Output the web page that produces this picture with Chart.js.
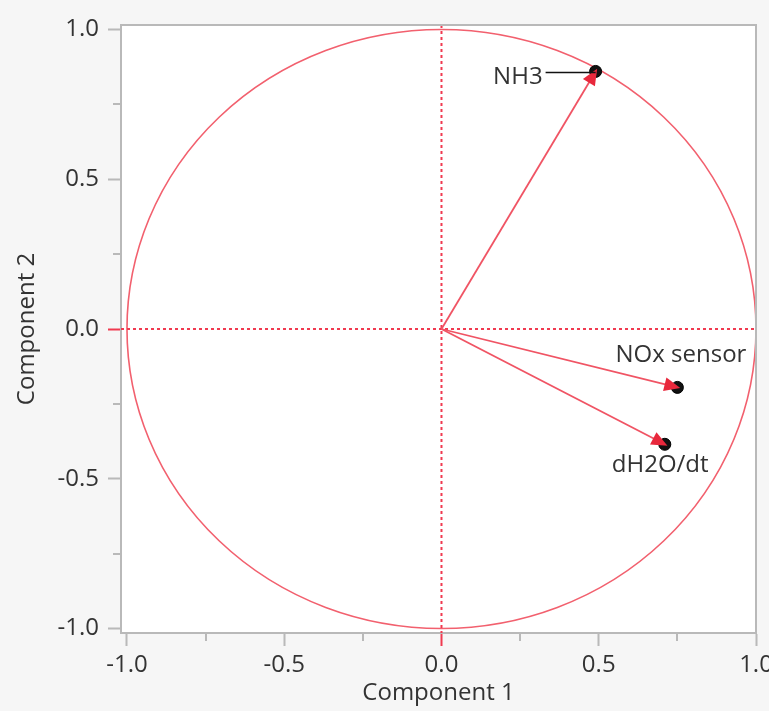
<!DOCTYPE html>
<html>
<head>
<meta charset="utf-8">
<title>Loading plot</title>
<script src="https://cdn.jsdelivr.net/npm/chart.js@4.4.1/dist/chart.umd.min.js"></script>
<style>
  html, body { margin: 0; padding: 0; background: #f6f6f6; }
  #wrap { width: 769px; height: 711px; }
</style>
</head>
<body>
<div id="wrap"><canvas id="c" width="769" height="711"></canvas></div>
<script>
// Variable loadings on the first two principal components
const variables  = ['NH3', 'NOx sensor', 'dH2O/dt'];
const component1 = [0.49, 0.75, 0.71];
const component2 = [0.86, -0.195, -0.385];

// Axis ticks (majors every 0.5 are labelled, the quarter steps are minor)
const xTicks = [-1, -0.75, -0.5, -0.25, 0, 0.25, 0.5, 0.75, 1];
const yTicks = [-1, -0.75, -0.5, -0.25, 0, 0.25, 0.5, 0.75, 1];
const xRange = [-1.019, 1.0];
const yRange = [-1.015, 1.015];

const FONT = '"Open Sans", "Noto Sans", sans-serif';
const FONT_SIZE = 24;
const TEXT = '#333333';
const AXIS_GREY = '#b9b9b9';
const ZERO_RED = '#f03a50';

const isMajor = v => Math.abs(v * 2 - Math.round(v * 2)) < 1e-9;

// Where each variable name sits relative to its point (pixels)
const labelOffsets = {
  'NH3':        { dx: -53, dy: 13, align: 'right', leader: true },
  'NOx sensor': { dx: 69,  dy: -25, align: 'right' },
  'dH2O/dt':    { dx: -53, dy: 28, align: 'left' }
};

const biplot = {
  id: 'biplot',
  beforeDraw(chart) {
    const { ctx, chartArea: a } = chart;
    ctx.save();
    ctx.fillStyle = '#f6f6f6';
    ctx.fillRect(0, 0, chart.width, chart.height);
    ctx.fillStyle = '#ffffff';
    ctx.fillRect(a.left, a.top, a.right - a.left, a.bottom - a.top);
    ctx.restore();
  },
  beforeDatasetsDraw(chart) {
    const { ctx, chartArea: a, scales: { x, y } } = chart;
    const cx = x.getPixelForValue(0), cy = y.getPixelForValue(0);
    const rx = x.getPixelForValue(1) - cx, ry = cy - y.getPixelForValue(1);
    ctx.save();
    // unit circle
    ctx.strokeStyle = '#f2606e';
    ctx.lineWidth = 1.6;
    ctx.beginPath();
    ctx.ellipse(cx, cy, rx, ry, 0, 0, Math.PI * 2);
    ctx.stroke();
    // dashed zero lines
    ctx.strokeStyle = ZERO_RED;
    ctx.lineWidth = 2;
    ctx.setLineDash([3, 3]);
    ctx.beginPath();
    ctx.moveTo(cx, a.top); ctx.lineTo(cx, a.bottom);
    ctx.moveTo(a.left, cy); ctx.lineTo(a.right, cy);
    ctx.stroke();
    ctx.restore();
  },
  afterDatasetsDraw(chart) {
    const { ctx, chartArea: a, scales: { x, y } } = chart;
    const ox = x.getPixelForValue(0), oy = y.getPixelForValue(0);
    ctx.save();
    // arrowheads
    ctx.fillStyle = '#e8283c';
    variables.forEach((name, i) => {
      const px = x.getPixelForValue(component1[i]);
      const py = y.getPixelForValue(component2[i]);
      const ang = Math.atan2(py - oy, px - ox);
      const tipX = px + 3 * Math.cos(ang), tipY = py + 3 * Math.sin(ang);
      const len = 16, half = 7;
      const bx = tipX - len * Math.cos(ang), by = tipY - len * Math.sin(ang);
      ctx.beginPath();
      ctx.moveTo(tipX, tipY);
      ctx.lineTo(bx + half * Math.sin(ang), by - half * Math.cos(ang));
      ctx.lineTo(bx - half * Math.sin(ang), by + half * Math.cos(ang));
      ctx.closePath();
      ctx.fill();
    });
    // variable names
    ctx.font = FONT_SIZE + 'px ' + FONT;
    ctx.fillStyle = TEXT;
    ctx.textBaseline = 'alphabetic';
    variables.forEach((name, i) => {
      const px = x.getPixelForValue(component1[i]);
      const py = y.getPixelForValue(component2[i]);
      const o = labelOffsets[name];
      ctx.textAlign = o.align;
      ctx.fillText(name, px + o.dx, py + o.dy);
      if (o.leader) {
        ctx.strokeStyle = '#111';
        ctx.lineWidth = 1.5;
        ctx.beginPath();
        ctx.moveTo(px + o.dx + 3, py + 1);
        ctx.lineTo(px, py + 1);
        ctx.stroke();
      }
    });
    // plot frame (top and right)
    ctx.strokeStyle = AXIS_GREY;
    ctx.lineWidth = 2;
    ctx.beginPath();
    ctx.moveTo(a.left, a.top); ctx.lineTo(a.right, a.top); ctx.lineTo(a.right, a.bottom);
    ctx.stroke();
    // short minor ticks
    ctx.beginPath();
    xTicks.filter(v => !isMajor(v)).forEach(v => {
      const p = Math.round(x.getPixelForValue(v));
      ctx.moveTo(p, a.bottom); ctx.lineTo(p, a.bottom + 8);
    });
    yTicks.filter(v => !isMajor(v)).forEach(v => {
      const p = Math.round(y.getPixelForValue(v));
      ctx.moveTo(a.left, p); ctx.lineTo(a.left - 8, p);
    });
    ctx.stroke();
    ctx.restore();
  }
};

const tickColor = c => {
  const v = c.tick ? c.tick.value : NaN;
  if (!isMajor(v)) return 'rgba(0,0,0,0)';
  return Math.abs(v) < 1e-9 ? ZERO_RED : AXIS_GREY;
};

const shafts = variables.map((name, i) => ({
  type: 'line',
  label: name,
  data: [{ x: 0, y: 0 }, { x: component1[i], y: component2[i] }],
  borderColor: '#f05464',
  borderWidth: 1.8,
  pointRadius: 0,
  fill: false,
  order: 2
}));

const points = {
  type: 'scatter',
  label: 'loadings',
  data: variables.map((name, i) => ({ x: component1[i], y: component2[i] })),
  backgroundColor: '#111111',
  borderColor: '#000000',
  borderWidth: 1,
  pointRadius: 6,
  order: 1
};

new Chart(document.getElementById('c'), {
  type: 'scatter',
  data: { datasets: [...shafts, points] },
  options: {
    responsive: false,
    animation: false,
    devicePixelRatio: 1,
    layout: { padding: { top: 25, right: 13, left: 0, bottom: 0 } },
    plugins: { legend: { display: false }, tooltip: { enabled: false } },
    scales: {
      x: {
        type: 'linear',
        min: xRange[0], max: xRange[1],
        afterBuildTicks: s => { s.ticks = xTicks.map(v => ({ value: v })); },
        afterFit: s => { s.height = 78; s.paddingLeft = 0; s.paddingRight = 0; },
        ticks: {
          callback: v => isMajor(v) ? v.toFixed(1) : '',
          font: { family: FONT, size: FONT_SIZE }, color: TEXT,
          padding: 5, maxRotation: 0, autoSkip: false
        },
        grid: { drawOnChartArea: false, drawTicks: true, tickLength: 13, tickWidth: 2, tickColor },
        border: { color: AXIS_GREY, width: 2 },
        title: { display: true, text: 'Component 1', font: { family: FONT, size: FONT_SIZE }, color: TEXT, padding: { top: 0, bottom: 3 } }
      },
      y: {
        type: 'linear',
        min: yRange[0], max: yRange[1],
        afterBuildTicks: s => { s.ticks = yTicks.map(v => ({ value: v })); },
        afterFit: s => { s.width = 121; s.paddingTop = 0; s.paddingBottom = 0; },
        ticks: {
          callback: v => isMajor(v) ? v.toFixed(1) : '',
          font: { family: FONT, size: FONT_SIZE }, color: TEXT,
          padding: 9, autoSkip: false
        },
        grid: { drawOnChartArea: false, drawTicks: true, tickLength: 13, tickWidth: 2, tickColor },
        border: { color: AXIS_GREY, width: 2 },
        title: { display: true, text: 'Component 2', font: { family: FONT, size: FONT_SIZE }, color: TEXT, padding: { top: 13, bottom: 0 } }
      }
    }
  },
  plugins: [biplot]
});
</script>
</body>
</html>
